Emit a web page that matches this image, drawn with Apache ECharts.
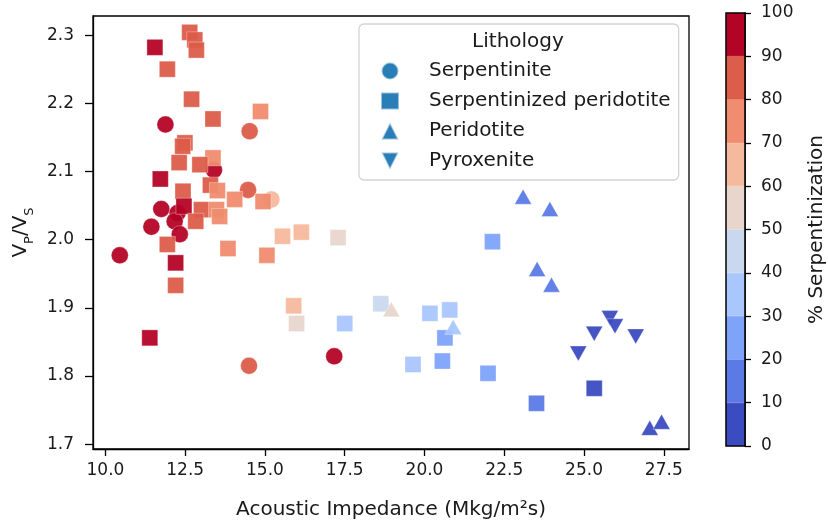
<!DOCTYPE html>
<html><head><meta charset="utf-8">
<script src="https://cdn.jsdelivr.net/npm/echarts@6/dist/echarts.min.js"></script>
<style>html,body{margin:0;padding:0;background:#fff}#c{width:828px;height:525px}</style>
</head><body><div id="c"></div>
<script>
// ---- data ----
const xTicks = [10.0, 12.5, 15.0, 17.5, 20.0, 22.5, 25.0, 27.5];
const yTicks = [1.7, 1.8, 1.9, 2.0, 2.1, 2.2, 2.3];
const binEdges = [0, 10, 20, 30, 40, 50, 60, 70, 80, 90, 100];
const binColors = ['#3b4cc0', '#5b7ae5', '#80a3fa', '#a9c6fd', '#cad8ef',
                   '#e8d6cc', '#f5b99d', '#f08c6f', '#dc5d4a', '#b40426'];
const lithology = ['Serpentinite', 'Serpentinized peridotite', 'Peridotite', 'Pyroxenite'];

// Serpentinite (circles)
const serpX = [11.88, 14.52, 13.40, 14.47, 15.20, 11.75, 12.26, 12.17, 11.44, 12.33, 10.45, 14.50, 17.17];
const serpY = [2.169, 2.159, 2.102, 2.073, 2.059, 2.045, 2.039, 2.027, 2.019, 2.008, 1.977, 1.815, 1.829];
const serpS = [95, 85, 95, 85, 65, 95, 95, 95, 95, 95, 95, 85, 95];

// Serpentinized peridotite (squares)
const spX = [12.64, 12.80, 12.85, 11.55, 11.94, 12.70, 14.86, 13.37, 12.49, 12.42, 13.37, 12.31, 12.96,
             11.72, 13.29, 13.51, 12.43, 14.05, 14.94, 13.01, 13.48, 13.58, 12.46, 12.83, 11.94, 13.84,
             15.55, 16.14, 17.29, 15.06, 12.20, 12.20, 15.90, 15.99, 17.50, 11.39, 22.13, 18.63, 20.17,
             20.79, 20.64, 19.64, 20.56, 21.99, 23.51, 25.32];
const spY = [2.304, 2.293, 2.278, 2.282, 2.250, 2.206, 2.188, 2.177, 2.142, 2.137, 2.120, 2.113, 2.110,
             2.089, 2.080, 2.072, 2.071, 2.059, 2.056, 2.044, 2.044, 2.034, 2.049, 2.027, 1.993, 1.987,
             2.005, 2.011, 2.003, 1.977, 1.966, 1.933, 1.903, 1.877, 1.877, 1.856, 1.997, 1.906, 1.892,
             1.897, 1.856, 1.817, 1.822, 1.804, 1.760, 1.782];
const spS = [85, 85, 85, 95, 85, 85, 75, 85, 85, 85, 75, 85, 85,
             95, 85, 75, 85, 75, 75, 85, 75, 75, 95, 85, 85, 75,
             65, 65, 55, 75, 95, 85, 65, 55, 35, 95, 25, 45, 35,
             35, 25, 35, 25, 25, 15, 5];

// Peridotite (up triangles)
const perX = [23.09, 23.93, 23.53, 23.98, 18.96, 20.90, 27.06, 27.43];
const perY = [2.063, 2.045, 1.957, 1.934, 1.898, 1.872, 1.724, 1.733];
const perS = [15, 15, 15, 15, 55, 35, 5, 5];

// Pyroxenite (down triangles)
const pyrX = [25.81, 25.97, 25.32, 26.62, 24.82];
const pyrY = [1.885, 1.873, 1.862, 1.858, 1.833];
const pyrS = [5, 5, 5, 5, 5];

// ---- chart ----
const FONT = 'DejaVu Sans';
const TXT = '#1a1a1a';
function colorFor(s) { return binColors[Math.min(binColors.length - 1, Math.floor(s / 10))]; }
function zip(xs, ys, ss) { return xs.map((x, i) => [x, ys[i], ss[i]]); }
const ptStyle = {
  color: p => colorFor(p.value[2]),
  opacity: 0.95,
  borderColor: 'rgba(255,255,255,0.55)',
  borderWidth: 0.6
};
const LEG = '#1f77b4';

const colorbarSeries = binColors.map((c, i) => ({
  type: 'bar', xAxisIndex: 1, yAxisIndex: 1, stack: 'cb', silent: true,
  barWidth: '100%', data: [binEdges[i + 1] - binEdges[i]],
  itemStyle: { color: c, borderColor: c, borderWidth: 0.8 }
}));

const chart = echarts.init(document.getElementById('c'));
chart.setOption({
  animation: false,
  textStyle: { fontFamily: FONT, color: TXT },
  grid: [
    { left: 93, right: 139, top: 16, bottom: 75, show: true, borderColor: '#000', borderWidth: 1.3 },
    { left: 726, width: 22, top: 13, bottom: 79, show: true, borderColor: '#000', borderWidth: 1.5, z: 10 }
  ],
  xAxis: [
    {
      type: 'value', gridIndex: 0, min: 9.61, max: 28.29,
      axisLine: { show: true, lineStyle: { color: '#000', width: 1.3 } },
      axisTick: { show: true, inside: false, length: 7, customValues: xTicks, lineStyle: { color: '#000', width: 1.3 } },
      axisLabel: { customValues: xTicks, formatter: v => v.toFixed(1), fontSize: 17, margin: 13, color: TXT, fontFamily: FONT },
      splitLine: { show: false },
      name: 'Acoustic Impedance (Mkg/m²s)', nameLocation: 'middle', nameGap: 51,
      nameTextStyle: { fontSize: 20, color: TXT, fontFamily: FONT }
    },
    { type: 'category', gridIndex: 1, data: ['cb'], show: false }
  ],
  yAxis: [
    {
      type: 'value', gridIndex: 0, min: 1.693, max: 2.328,
      axisLine: { show: true, lineStyle: { color: '#000', width: 1.3 } },
      axisTick: { show: true, inside: false, length: 8, customValues: yTicks, lineStyle: { color: '#000', width: 1.3 } },
      axisLabel: { customValues: yTicks, formatter: v => v.toFixed(1), fontSize: 17, margin: 19, color: TXT, fontFamily: FONT },
      splitLine: { show: false },
      name: '{v|V}{s|P}{v|/V}{s|S}', nameLocation: 'middle', nameGap: 54, nameRotate: 90,
      nameTextStyle: {
        rich: {
          v: { fontSize: 20, color: TXT, fontFamily: FONT, lineHeight: 30, verticalAlign: 'middle' },
          s: { fontSize: 13, color: TXT, fontFamily: FONT, lineHeight: 13, verticalAlign: 'bottom' }
        }
      }
    },
    {
      type: 'value', gridIndex: 1, min: 0, max: 100, interval: 10, position: 'right',
      axisLine: { show: true, lineStyle: { color: '#000', width: 1.5 } },
      axisTick: { show: true, inside: false, length: 6, lineStyle: { color: '#000', width: 1.3 } },
      axisLabel: { fontSize: 17, margin: 16, color: TXT, fontFamily: FONT },
      splitLine: { show: false },
      name: '% Serpentinization', nameLocation: 'middle', nameRotate: 90, nameGap: 62,
      nameTextStyle: { fontSize: 20, color: TXT, fontFamily: FONT }
    }
  ],
  legend: {
    orient: 'vertical', left: 359, top: 24,
    padding: [37, 8, 9, 21], itemGap: 10, itemWidth: 18, itemHeight: 17,
    backgroundColor: 'rgba(255,255,255,0.85)', borderColor: '#d3d3d3', borderWidth: 1.3, borderRadius: 5,
    textStyle: { fontSize: 20, lineHeight: 20, color: TXT, fontFamily: FONT, padding: [0, 0, 0, 25] },
    data: [
      { name: lithology[0], icon: 'circle', itemStyle: { color: LEG } },
      { name: lithology[1], icon: 'rect', itemStyle: { color: LEG } },
      { name: lithology[2], icon: 'path://M1,0 L2,2 L0,2 Z', itemStyle: { color: LEG } },
      { name: lithology[3], icon: 'path://M0,0 L2,0 L1,2 Z', itemStyle: { color: LEG } }
    ],
    selectedMode: false
  },
  graphic: [
    { type: 'text', x: 518, y: 42, z: 100,
      style: { text: 'Lithology', fill: TXT, font: '20px "DejaVu Sans"', textAlign: 'center', textVerticalAlign: 'middle' } }
  ],
  series: [
    { type: 'scatter', name: lithology[0], data: zip(serpX, serpY, serpS), symbol: 'circle', symbolSize: 17, itemStyle: ptStyle },
    { type: 'scatter', name: lithology[1], data: zip(spX, spY, spS), symbol: 'rect', symbolSize: 16, itemStyle: ptStyle },
    { type: 'scatter', name: lithology[2], data: zip(perX, perY, perS), symbol: 'triangle', symbolSize: [17, 15], itemStyle: ptStyle },
    { type: 'scatter', name: lithology[3], data: zip(pyrX, pyrY, pyrS), symbol: 'triangle', symbolRotate: 180, symbolSize: [17, 15], itemStyle: ptStyle }
  ].concat(colorbarSeries)
});
</script>
</body></html>
